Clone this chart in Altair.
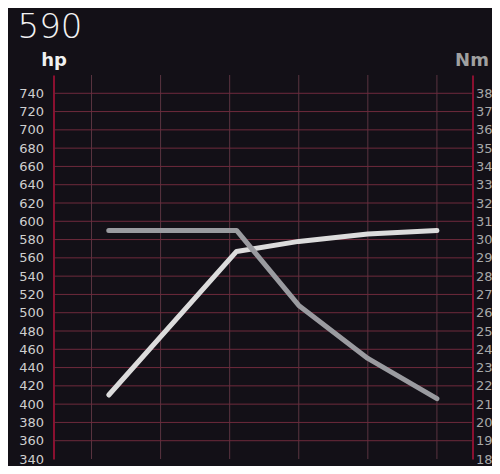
import altair as alt
import pandas as pd

title_text = ["590"]
rpm_hp = [950, 1320, 1500, 1700, 1900]
hp = [410, 567, 578, 586, 590]
rpm_nm = [950, 1320, 1500, 1700, 1900]
nm = [3050, 3050, 2640, 2350, 2130]

x_ticks = [900, 1100, 1300, 1500, 1700, 1900]
hp_ticks = list(range(340, 741, 20))
nm_ticks = list(range(1800, 3801, 100))

df_hp = pd.DataFrame({"rpm": rpm_hp, "hp": hp})
df_nm = pd.DataFrame({"rpm": rpm_nm, "nm": nm})
df_vgrid = pd.DataFrame({"rpm": x_ticks})
df_hgrid = pd.DataFrame({"v": hp_ticks[1:]})
df_title = pd.DataFrame({"t": title_text})

BG = "#131017"
AXIS = "#8a1030"
FONT = "DejaVu Sans"

xscale = alt.Scale(domain=[790, 2003], nice=False, zero=False)
hpscale = alt.Scale(domain=[340, 760], nice=False, zero=False)
nmscale = alt.Scale(domain=[1800, 3900], nice=False, zero=False)

xaxis = alt.Axis(values=x_ticks, grid=False, domainColor=AXIS, domainWidth=2,
                 ticks=False, labelColor="#cfcfcf", labelFont=FONT, labelFontSize=13,
                 labelPadding=-1, format="d", title=None)

vgrid = alt.Chart(df_vgrid).mark_rule(color="#5a3440", strokeWidth=1).encode(
    x=alt.X("rpm:Q", scale=xscale, axis=xaxis)
)
hgrid = alt.Chart(df_hgrid).mark_rule(color="#6e2a3c", strokeWidth=1).encode(
    y=alt.Y("v:Q", scale=hpscale, axis=None)
)

hp_line = alt.Chart(df_hp).mark_line(color="#dcdcdc", strokeWidth=5, strokeCap="round",
                                     strokeJoin="round").encode(
    x=alt.X("rpm:Q", scale=xscale, axis=None),
    y=alt.Y("hp:Q", scale=hpscale,
            axis=alt.Axis(values=hp_ticks, orient="left", grid=False, ticks=False,
                          domainColor=AXIS, domainWidth=2, labelColor="#cfcfcf",
                          labelFont=FONT, labelFontSize=13, labelPadding=10,
                          title="hp", titleAngle=0, titleX=0, titleY=-10,
                          titleAlign="center", titleBaseline="alphabetic",
                          titleFont=FONT, titleFontSize=18, titleFontWeight="bold",
                          titleColor="#f0f0f0"))
)

nm_line = alt.Chart(df_nm).mark_line(color="#9a9ba0", strokeWidth=5, strokeCap="round",
                                     strokeJoin="round").encode(
    x=alt.X("rpm:Q", scale=xscale, axis=None),
    y=alt.Y("nm:Q", scale=nmscale,
            axis=alt.Axis(values=nm_ticks, orient="right", grid=False, ticks=False,
                          domainColor=AXIS, domainWidth=2, labelColor="#a8a8a8",
                          labelFont=FONT, labelFontSize=13, labelPadding=3,
                          format="d",
                          title="Nm", titleAngle=0, titleX=-1, titleY=-10,
                          titleAlign="center", titleBaseline="alphabetic",
                          titleFont=FONT, titleFontSize=18, titleFontWeight="bold",
                          titleColor="#a0a0a0"))
)

title_mark = alt.Chart(df_title).mark_text(
    align="left", baseline="alphabetic", font=FONT, fontSize=34, fontWeight=300,
    color="#f2f2f2"
).encode(text="t:N", x=alt.value(-36), y=alt.value(-37))

grid = alt.layer(vgrid, hgrid)
lines = alt.layer(hp_line, nm_line).resolve_scale(y="independent")

chart = alt.layer(grid, lines, title_mark).resolve_scale(y="independent").properties(
    width=419, height=384,
    autosize=alt.AutoSizeParams(type="none"),
    padding={"left": 45.5, "top": 67, "right": 19.5, "bottom": 7},
    background=BG,
).configure_view(stroke=None)

chart.save("out.html", embed_options={"renderer": "svg", "actions": False})
